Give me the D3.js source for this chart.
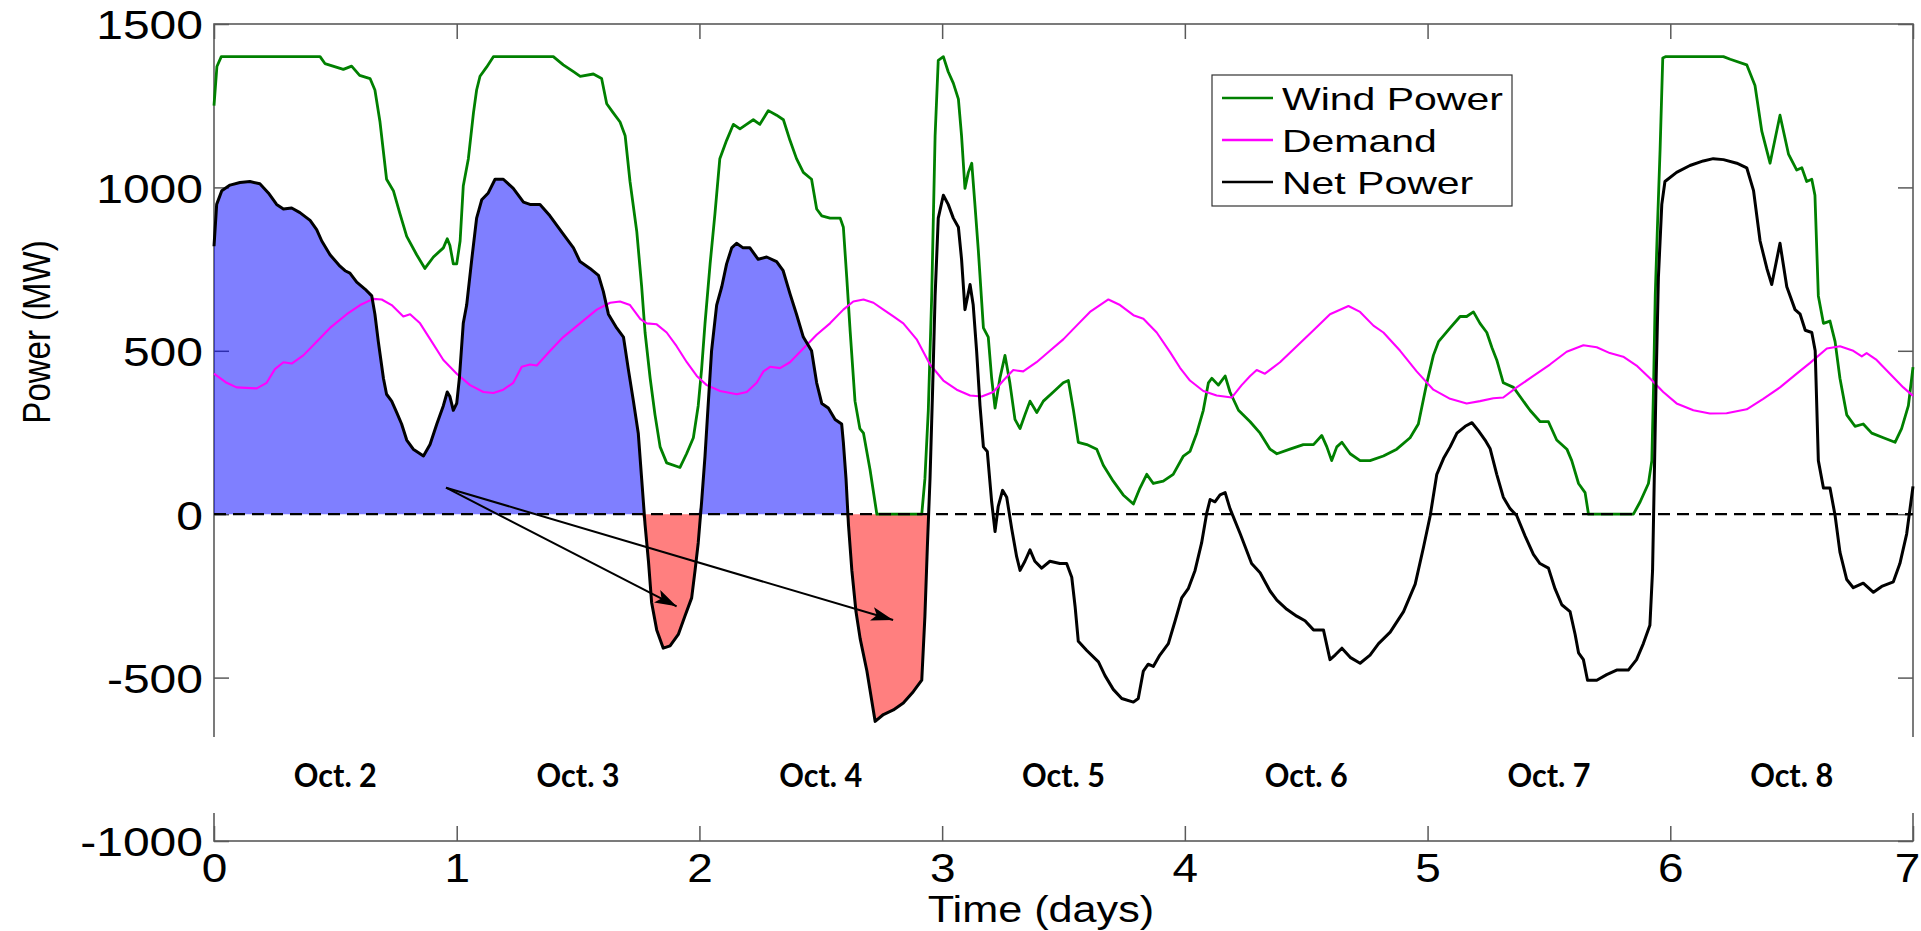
<!DOCTYPE html>
<html>
<head>
<meta charset="utf-8">
<script src="https://cdn.jsdelivr.net/npm/d3@7"></script>
<style>
  body { margin: 0; background: #fff; overflow: hidden; }
  text { font-family: "Liberation Sans", Arial, sans-serif; fill: #000; }
</style>
</head>
<body>
<script>
// data: [day, MW]
const windPower = [
  [0,1250],[0.012,1370],[0.03,1400],[0.437,1400],[0.457,1379],[0.533,1361],[0.567,1371],[0.60,1343],
  [0.643,1333],[0.663,1298],[0.684,1200],[0.711,1025],[0.739,990],[0.766,920],[0.794,850],[0.835,794],
  [0.869,752],[0.904,787],[0.945,815],[0.961,843],[0.972,822],[0.986,766],[1.0,766],[1.014,836],
  [1.027,1004],[1.048,1088],[1.069,1228],[1.082,1298],[1.096,1340],[1.123,1368],[1.151,1400],[1.398,1400],
  [1.439,1375],[1.481,1354],[1.509,1340],[1.563,1347],[1.597,1333],[1.618,1256],[1.645,1228],[1.673,1200],
  [1.694,1158],[1.714,1018],[1.742,864],[1.762,696],[1.776,556],[1.797,416],[1.817,304],[1.838,206],
  [1.865,157],[1.920,143],[1.947,185],[1.975,234],[1.995,332],[2.009,444],[2.023,584],[2.044,766],
  [2.064,920],[2.084,1088],[2.112,1144],[2.140,1193],[2.167,1179],[2.194,1193],[2.222,1207],[2.249,1193],
  [2.284,1235],[2.318,1221],[2.346,1207],[2.373,1144],[2.400,1088],[2.428,1046],[2.462,1025],[2.483,934],
  [2.504,913],[2.538,906],[2.580,906],[2.593,878],[2.607,724],[2.621,560],[2.641,346],[2.661,262],
  [2.676,248],[2.703,136],[2.731,0],[2.916,0],[2.929,108],[2.943,318],[2.957,668],[2.971,1158],
  [2.984,1389],[3.005,1400],[3.025,1354],[3.046,1319],[3.067,1270],[3.080,1158],[3.094,997],[3.108,1046],
  [3.122,1074],[3.135,948],[3.149,808],[3.170,570],[3.190,542],[3.204,416],[3.218,325],[3.238,416],
  [3.259,486],[3.279,402],[3.300,290],[3.321,262],[3.341,304],[3.362,346],[3.390,311],[3.417,346],
  [3.458,374],[3.499,402],[3.520,409],[3.541,318],[3.561,220],[3.596,213],[3.637,199],[3.664,150],
  [3.705,101],[3.746,59],[3.788,31],[3.815,80],[3.843,122],[3.870,94],[3.911,101],[3.952,122],
  [3.994,178],[4.021,192],[4.049,248],[4.076,318],[4.097,402],[4.111,416],[4.138,395],[4.166,423],
  [4.186,374],[4.221,318],[4.269,283],[4.310,248],[4.351,199],[4.379,185],[4.433,199],[4.488,213],
  [4.530,213],[4.564,241],[4.585,206],[4.605,164],[4.626,206],[4.647,220],[4.681,185],[4.722,164],
  [4.763,164],[4.818,178],[4.873,199],[4.928,234],[4.962,276],[4.997,402],[5.024,486],[5.045,528],
  [5.093,570],[5.134,605],[5.161,605],[5.189,619],[5.216,584],[5.244,556],[5.265,510],[5.285,472],
  [5.312,402],[5.354,388],[5.381,360],[5.422,318],[5.464,283],[5.498,283],[5.532,227],[5.574,199],
  [5.594,164],[5.622,94],[5.649,66],[5.663,0],[5.848,0],[5.876,38],[5.910,94],[5.924,164],
  [5.931,388],[5.938,668],[5.947,878],[5.958,1116],[5.969,1396],[5.98,1400],[6.219,1400],[6.247,1392],
  [6.315,1375],[6.349,1312],[6.377,1172],[6.411,1074],[6.452,1221],[6.487,1102],[6.521,1053],[6.542,1060],
  [6.562,1018],[6.583,1025],[6.596,976],[6.610,668],[6.631,584],[6.658,591],[6.679,528],[6.699,416],
  [6.727,304],[6.761,269],[6.795,276],[6.830,248],[6.878,234],[6.926,220],[6.953,262],[6.981,332],[7,450]
];

const demand = [
  [0,430],[0.052,402],[0.093,388],[0.176,385],[0.217,402],[0.251,444],[0.286,465],[0.320,461],
  [0.368,486],[0.423,528],[0.478,570],[0.547,612],[0.602,640],[0.656,659],[0.691,657],[0.732,640],
  [0.780,605],[0.808,612],[0.849,584],[0.897,528],[0.945,472],[1.000,430],[1.055,395],[1.110,374],
  [1.151,371],[1.192,381],[1.233,402],[1.268,451],[1.302,458],[1.330,455],[1.385,500],[1.439,542],
  [1.508,584],[1.577,626],[1.632,647],[1.673,651],[1.714,640],[1.756,598],[1.783,584],[1.824,581],
  [1.865,556],[1.906,514],[1.948,465],[1.989,423],[2.030,395],[2.085,377],[2.154,367],[2.195,374],
  [2.236,402],[2.264,437],[2.291,451],[2.332,447],[2.373,465],[2.428,507],[2.483,549],[2.538,584],
  [2.593,626],[2.634,651],[2.676,657],[2.717,647],[2.758,626],[2.799,605],[2.840,584],[2.895,535],
  [2.950,458],[3.005,409],[3.060,381],[3.115,363],[3.163,360],[3.211,374],[3.252,409],[3.293,441],
  [3.334,437],[3.389,465],[3.444,500],[3.499,535],[3.554,577],[3.609,619],[3.685,657],[3.733,640],
  [3.788,609],[3.829,598],[3.884,556],[3.939,496],[3.980,448],[4.021,409],[4.076,377],[4.131,363],
  [4.193,357],[4.234,395],[4.269,423],[4.296,441],[4.330,430],[4.392,465],[4.461,514],[4.530,563],
  [4.598,612],[4.674,637],[4.722,619],[4.777,577],[4.818,556],[4.887,500],[4.955,437],[5.024,381],
  [5.093,353],[5.161,339],[5.216,346],[5.271,355],[5.312,357],[5.367,388],[5.436,423],[5.504,458],
  [5.573,497],[5.642,517],[5.697,511],[5.751,493],[5.806,482],[5.861,455],[5.916,416],[5.971,374],
  [6.026,339],[6.095,318],[6.163,308],[6.232,309],[6.315,321],[6.383,353],[6.452,388],[6.521,430],
  [6.576,463],[6.645,507],[6.699,514],[6.754,500],[6.789,483],[6.809,493],[6.850,472],[6.905,430],
  [6.960,388],[7,362]
];

const netPower = [
  [0,820],[0.011,948],[0.032,990],[0.066,1007],[0.107,1015],[0.148,1018],[0.189,1011],[0.224,983],
  [0.258,948],[0.286,934],[0.320,937],[0.354,923],[0.396,899],[0.423,871],[0.444,836],[0.478,794],
  [0.519,759],[0.540,745],[0.560,738],[0.588,710],[0.622,689],[0.650,668],[0.663,612],[0.677,528],
  [0.698,416],[0.711,367],[0.732,346],[0.753,311],[0.773,276],[0.794,227],[0.821,199],[0.863,178],
  [0.890,213],[0.918,276],[0.945,332],[0.961,374],[0.972,360],[0.986,318],[1.000,339],[1.011,416],
  [1.027,584],[1.041,640],[1.062,780],[1.082,906],[1.103,962],[1.130,983],[1.158,1025],[1.192,1025],
  [1.233,997],[1.275,955],[1.302,948],[1.343,948],[1.384,913],[1.439,857],[1.481,815],[1.508,773],
  [1.549,752],[1.584,731],[1.604,682],[1.625,612],[1.659,570],[1.687,542],[1.707,444],[1.728,346],
  [1.748,248],[1.762,108],[1.776,-32],[1.790,-144],[1.803,-270],[1.824,-354],[1.851,-410],[1.879,-403],
  [1.913,-368],[1.940,-312],[1.968,-256],[1.982,-172],[1.995,-88],[2.009,38],[2.023,178],[2.037,346],
  [2.050,500],[2.071,640],[2.092,696],[2.112,766],[2.133,815],[2.153,829],[2.180,815],[2.208,815],
  [2.242,780],[2.277,787],[2.318,773],[2.345,745],[2.373,675],[2.400,612],[2.428,542],[2.462,500],
  [2.483,402],[2.504,339],[2.531,325],[2.559,290],[2.586,276],[2.593,220],[2.604,108],[2.614,-32],
  [2.628,-172],[2.645,-298],[2.662,-380],[2.690,-480],[2.724,-634],[2.758,-613],[2.799,-599],[2.840,-578],
  [2.881,-543],[2.916,-508],[2.929,-312],[2.939,-102],[2.950,108],[2.961,388],[2.971,668],[2.984,906],
  [3.005,976],[3.025,948],[3.046,906],[3.067,878],[3.080,780],[3.094,626],[3.115,703],[3.128,640],
  [3.142,500],[3.156,332],[3.170,206],[3.186,192],[3.204,38],[3.218,-53],[3.231,24],[3.249,73],
  [3.266,52],[3.287,-46],[3.307,-130],[3.321,-172],[3.341,-144],[3.362,-109],[3.382,-144],[3.410,-165],
  [3.444,-144],[3.485,-151],[3.513,-151],[3.534,-193],[3.548,-284],[3.561,-389],[3.596,-417],[3.644,-452],
  [3.671,-494],[3.705,-536],[3.740,-564],[3.788,-575],[3.808,-564],[3.829,-480],[3.849,-459],[3.870,-466],
  [3.897,-431],[3.932,-396],[3.960,-326],[3.987,-256],[4.014,-228],[4.042,-172],[4.069,-88],[4.090,3],
  [4.104,45],[4.124,38],[4.145,59],[4.166,66],[4.186,17],[4.228,-60],[4.275,-151],[4.310,-179],
  [4.351,-235],[4.379,-263],[4.420,-291],[4.461,-312],[4.495,-326],[4.530,-354],[4.571,-354],[4.598,-445],
  [4.619,-431],[4.647,-410],[4.681,-438],[4.722,-456],[4.763,-431],[4.798,-396],[4.846,-361],[4.901,-298],
  [4.949,-214],[4.983,-102],[5.011,-4],[5.038,122],[5.066,171],[5.093,206],[5.121,248],[5.155,269],
  [5.183,280],[5.210,255],[5.237,227],[5.258,200],[5.285,122],[5.312,52],[5.340,17],[5.367,-4],
  [5.402,-67],[5.436,-123],[5.463,-151],[5.498,-165],[5.525,-228],[5.553,-277],[5.587,-298],[5.608,-368],
  [5.622,-424],[5.642,-445],[5.659,-508],[5.697,-508],[5.738,-491],[5.779,-477],[5.827,-477],[5.861,-445],
  [5.889,-396],[5.916,-340],[5.927,-172],[5.934,108],[5.941,388],[5.951,724],[5.965,948],[5.978,1018],
  [6.026,1046],[6.081,1067],[6.136,1081],[6.177,1088],[6.219,1085],[6.274,1074],[6.315,1060],[6.343,990],
  [6.370,836],[6.398,752],[6.418,703],[6.452,829],[6.480,696],[6.514,626],[6.535,612],[6.556,563],
  [6.583,556],[6.597,500],[6.610,164],[6.631,80],[6.658,80],[6.679,-4],[6.699,-116],[6.727,-200],
  [6.754,-225],[6.795,-211],[6.837,-239],[6.871,-221],[6.919,-207],[6.946,-151],[6.974,-60],[7,85]
];

const dayTicks = [0, 1, 2, 3, 4, 5, 6, 7];
const powerTicks = [-1000, -500, 0, 500, 1000, 1500];
const dateLabels = ['Oct. 2', 'Oct. 3', 'Oct. 4', 'Oct. 5', 'Oct. 6', 'Oct. 7', 'Oct. 8'];
const fillEndDay = 2.944;           // surplus / deficit shading stops here
const arrowStart = [0.956, 81];
const arrowEnds = [[1.906, -282], [2.798, -324]];

const series = [
  { name: 'Wind Power', data: windPower, color: '#008000', width: 2.8 },
  { name: 'Demand',     data: demand,    color: '#ff00ff', width: 2.1 },
  { name: 'Net Power',  data: netPower,  color: '#000000', width: 3 }
];

const width = 1921, height = 931;
const plot = { left: 214, right: 1913, top: 24, bottom: 841 };
const band = { top: 737, bottom: 813 };   // white strip holding the date labels
const frameColor = '#5a5a5a';

const svg = d3.select('body').append('svg')
  .attr('width', width).attr('height', height)
  .style('display', 'block');

svg.append('rect').attr('width', width).attr('height', height).attr('fill', '#fff');

const x = d3.scaleLinear().domain([0, 7]).range([plot.left, plot.right]);
const y = d3.scaleLinear().domain([-1000, 1500]).range([plot.bottom, plot.top]);

// stretch text horizontally, the source image is wider than it is tall
function stretch(sel, k) {
  sel.each(function () {
    const w = this.getComputedTextLength();
    d3.select(this).attr('textLength', w * k).attr('lengthAdjust', 'spacingAndGlyphs');
  });
}

// frame
svg.append('rect')
  .attr('x', plot.left).attr('y', plot.top)
  .attr('width', plot.right - plot.left).attr('height', plot.bottom - plot.top)
  .attr('fill', 'none').attr('stroke', frameColor).attr('stroke-width', 1.6);

// axes
const xBottom = svg.append('g')
  .attr('transform', `translate(0, ${plot.bottom})`)
  .call(d3.axisBottom(x).tickValues(dayTicks).tickSize(-15).tickSizeOuter(0)
    .tickPadding(12).tickFormat(d => String(d)));
const xTop = svg.append('g')
  .attr('transform', `translate(0, ${plot.top})`)
  .call(d3.axisTop(x).tickValues(dayTicks).tickSize(-15).tickSizeOuter(0).tickFormat(''));
const yLeft = svg.append('g')
  .attr('transform', `translate(${plot.left}, 0)`)
  .call(d3.axisLeft(y).tickValues(powerTicks).tickSize(-15).tickSizeOuter(0)
    .tickPadding(11).tickFormat(d => String(d)));
const yRight = svg.append('g')
  .attr('transform', `translate(${plot.right}, 0)`)
  .call(d3.axisRight(y).tickValues(powerTicks).tickSize(-15).tickSizeOuter(0).tickFormat(''));

[xBottom, xTop, yLeft, yRight].forEach(g => {
  g.select('.domain').remove();
  g.selectAll('.tick line').attr('stroke', frameColor).attr('stroke-width', 1.5);
});

xBottom.selectAll('text')
  .style('font-family', '"Liberation Sans", Arial, sans-serif')
  .style('font-size', '41px').attr('fill', '#000');
stretch(xBottom.selectAll('text'), 1.12);
// last label sits on the image edge, nudge it inside
xBottom.selectAll('text').filter(d => d === 7).attr('dx', -6);

yLeft.selectAll('text')
  .style('font-family', '"Liberation Sans", Arial, sans-serif')
  .style('font-size', '40px').attr('fill', '#000').attr('dy', '0.37em');
stretch(yLeft.selectAll('text'), 1.2);

// shaded surplus / deficit
svg.append('clipPath').attr('id', 'fillClip')
  .append('rect')
  .attr('x', x(0)).attr('y', plot.top)
  .attr('width', x(fillEndDay) - x(0)).attr('height', plot.bottom - plot.top);

const fills = svg.append('g').attr('clip-path', 'url(#fillClip)');
fills.append('path')
  .datum(netPower)
  .attr('d', d3.area().x(d => x(d[0])).y0(y(0)).y1(d => y(Math.max(0, d[1]))))
  .attr('fill', '#0000ff').attr('fill-opacity', 0.5);
fills.append('path')
  .datum(netPower)
  .attr('d', d3.area().x(d => x(d[0])).y0(y(0)).y1(d => y(Math.min(0, d[1]))))
  .attr('fill', '#ff0000').attr('fill-opacity', 0.5);

// lines
const line = d3.line().x(d => x(d[0])).y(d => y(d[1]));
svg.append('g').selectAll('path')
  .data(series)
  .enter()
  .append('path')
  .attr('d', d => line(d.data))
  .attr('fill', 'none')
  .attr('stroke', d => d.color)
  .attr('stroke-width', d => d.width)
  .attr('stroke-linejoin', 'round');

// zero line
svg.append('line')
  .attr('x1', x(0)).attr('x2', x(7))
  .attr('y1', y(0)).attr('y2', y(0))
  .attr('stroke', '#000').attr('stroke-width', 2.2)
  .attr('stroke-dasharray', '12,7');

// arrows
svg.append('defs').append('marker')
  .attr('id', 'head')
  .attr('markerUnits', 'userSpaceOnUse')
  .attr('markerWidth', 24).attr('markerHeight', 14)
  .attr('refX', 22).attr('refY', 7)
  .attr('orient', 'auto')
  .append('path')
  .attr('d', 'M0,0 L22,7 L0,14 L5,7 Z')
  .attr('fill', '#000');

svg.append('g').selectAll('line')
  .data(arrowEnds)
  .enter()
  .append('line')
  .attr('x1', x(arrowStart[0])).attr('y1', y(arrowStart[1]))
  .attr('x2', d => x(d[0])).attr('y2', d => y(d[1]))
  .attr('stroke', '#000').attr('stroke-width', 2)
  .attr('marker-end', 'url(#head)');

// white strip with date labels
svg.append('rect')
  .attr('x', plot.left - 4).attr('y', band.top)
  .attr('width', plot.right - plot.left + 8).attr('height', band.bottom - band.top)
  .attr('fill', '#fff');

svg.append('g').selectAll('text')
  .data(dateLabels)
  .enter()
  .append('text')
  .attr('x', (d, i) => x(i + 0.5))
  .attr('y', (band.top + band.bottom) / 2 + 12)
  .attr('text-anchor', 'middle')
  .style('font-family', 'Lato, "Open Sans", sans-serif')
  .style('font-weight', 'bold')
  .style('font-size', '32px')
  .attr('textLength', 83)
  .attr('lengthAdjust', 'spacingAndGlyphs')
  .text(d => d);

// axis titles
const xTitle = svg.append('text')
  .attr('x', 1041).attr('y', 922)
  .attr('text-anchor', 'middle')
  .style('font-size', '36px')
  .text('Time (days)');
stretch(xTitle, 1.2);

svg.append('text')
  .attr('transform', 'translate(50, 332) scale(1.2, 1) rotate(-90)')
  .attr('text-anchor', 'middle')
  .style('font-size', '33px')
  .text('Power (MW)');

// legend
const legend = svg.append('g').attr('transform', 'translate(1212, 75)');
legend.append('rect')
  .attr('width', 300).attr('height', 131)
  .attr('fill', '#fff').attr('stroke', '#333').attr('stroke-width', 1.2);
const rows = legend.selectAll('g.row')
  .data(series)
  .enter()
  .append('g')
  .attr('class', 'row')
  .attr('transform', (d, i) => `translate(0, ${23 + i * 42})`);
rows.append('line')
  .attr('x1', 10).attr('x2', 61)
  .attr('stroke', d => d.color).attr('stroke-width', 2.4);
rows.append('text')
  .attr('x', 70).attr('y', 11.5)
  .style('font-size', '32px')
  .text(d => d.name);
stretch(rows.selectAll('text'), 1.28);
</script>
</body>
</html>
